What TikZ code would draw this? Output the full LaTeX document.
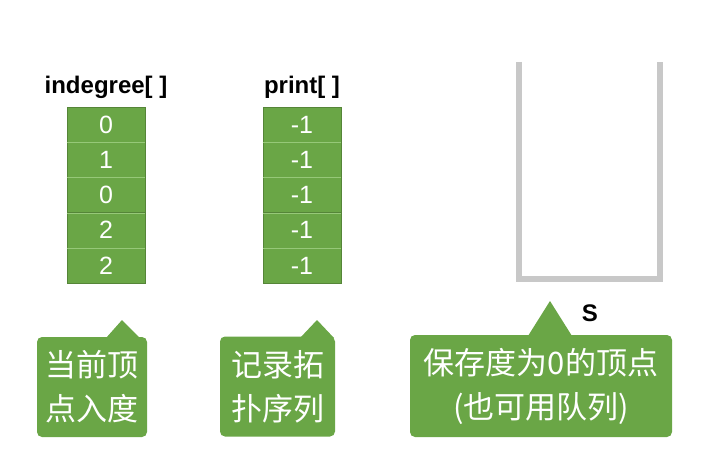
\documentclass[tikz,border=0pt]{standalone}
\usepackage{fontspec}
\setmainfont{Liberation Sans}
\newfontfamily\cjk{Noto Sans CJK SC}
\usetikzlibrary{positioning,calc}
\definecolor{cellgreen}{RGB}{106,166,70}
\definecolor{linegreen}{RGB}{150,200,120}
\definecolor{stackgray}{RGB}{200,200,200}
\tikzset{
  cell/.style={rectangle, fill=cellgreen, draw=cellgreen!80!black, line width=0.6pt,
    minimum width=78pt, minimum height=35.2pt, inner sep=0pt,
    text=white, font=\fontsize{25}{28}\selectfont},
  title/.style={font=\bfseries\fontsize{24}{26}\selectfont},
  callout/.style={rectangle, rounded corners=5pt, fill=cellgreen, text=white,
    inner sep=0pt, align=center, font=\cjk\fontsize{31}{44}\selectfont},
  pointer/.style={fill=cellgreen},
  wall/.style={draw=stackgray, line width=6pt},
}
\begin{document}
\begin{tikzpicture}[x=1pt,y=-1pt]
\useasboundingbox (0,0) rectangle (724,460);
% --- arrays ---
\foreach \v [count=\i] in {0,1,0,2,2}
  \node[cell] (deg\i) at (106,{107+17.6+(\i-1)*35.2}) {\v};
\foreach \i in {1,...,5}
  \node[cell] (prt\i) at (302,{107+17.6+(\i-1)*35.2}) {-1};
\foreach \i in {1,...,4} {
  \draw[linegreen, line width=0.8pt] (deg\i.south west) -- (deg\i.south east);
  \draw[linegreen, line width=0.8pt] (prt\i.south west) -- (prt\i.south east);
}
\node[title, above=5pt of deg1] (degtitle) {indegree[ ]};
\node[title, above=5pt of prt1] (prttitle) {print[ ]};
% --- stack ---
\coordinate (sl) at (519,62);
\coordinate (sr) at (660,62);
\draw[wall] (sl) -- (519,279) -- (660,279) -- (sr);
\node[title] (slabel) at (590,313) {S};
% --- callouts ---
\node[callout, minimum width=110pt, minimum height=100pt] (note1) at (92,387) {当前顶\\点入度};
\node[callout, minimum width=115pt, minimum height=100pt] (note2) at (277.5,386.5) {记录拓\\扑序列};
\node[callout, minimum width=262pt, minimum height=102pt] (note3) at (541,386) {保存度为0的顶点\\(也可用队列)};
\fill[pointer] (106,338) -- (122,320) -- (140,338) -- cycle;
\fill[pointer] (300,338) -- (317,320) -- (334,338) -- cycle;
\fill[pointer] (528,336) -- (550,301) -- (572,336) -- cycle;
\end{tikzpicture}
\end{document}
